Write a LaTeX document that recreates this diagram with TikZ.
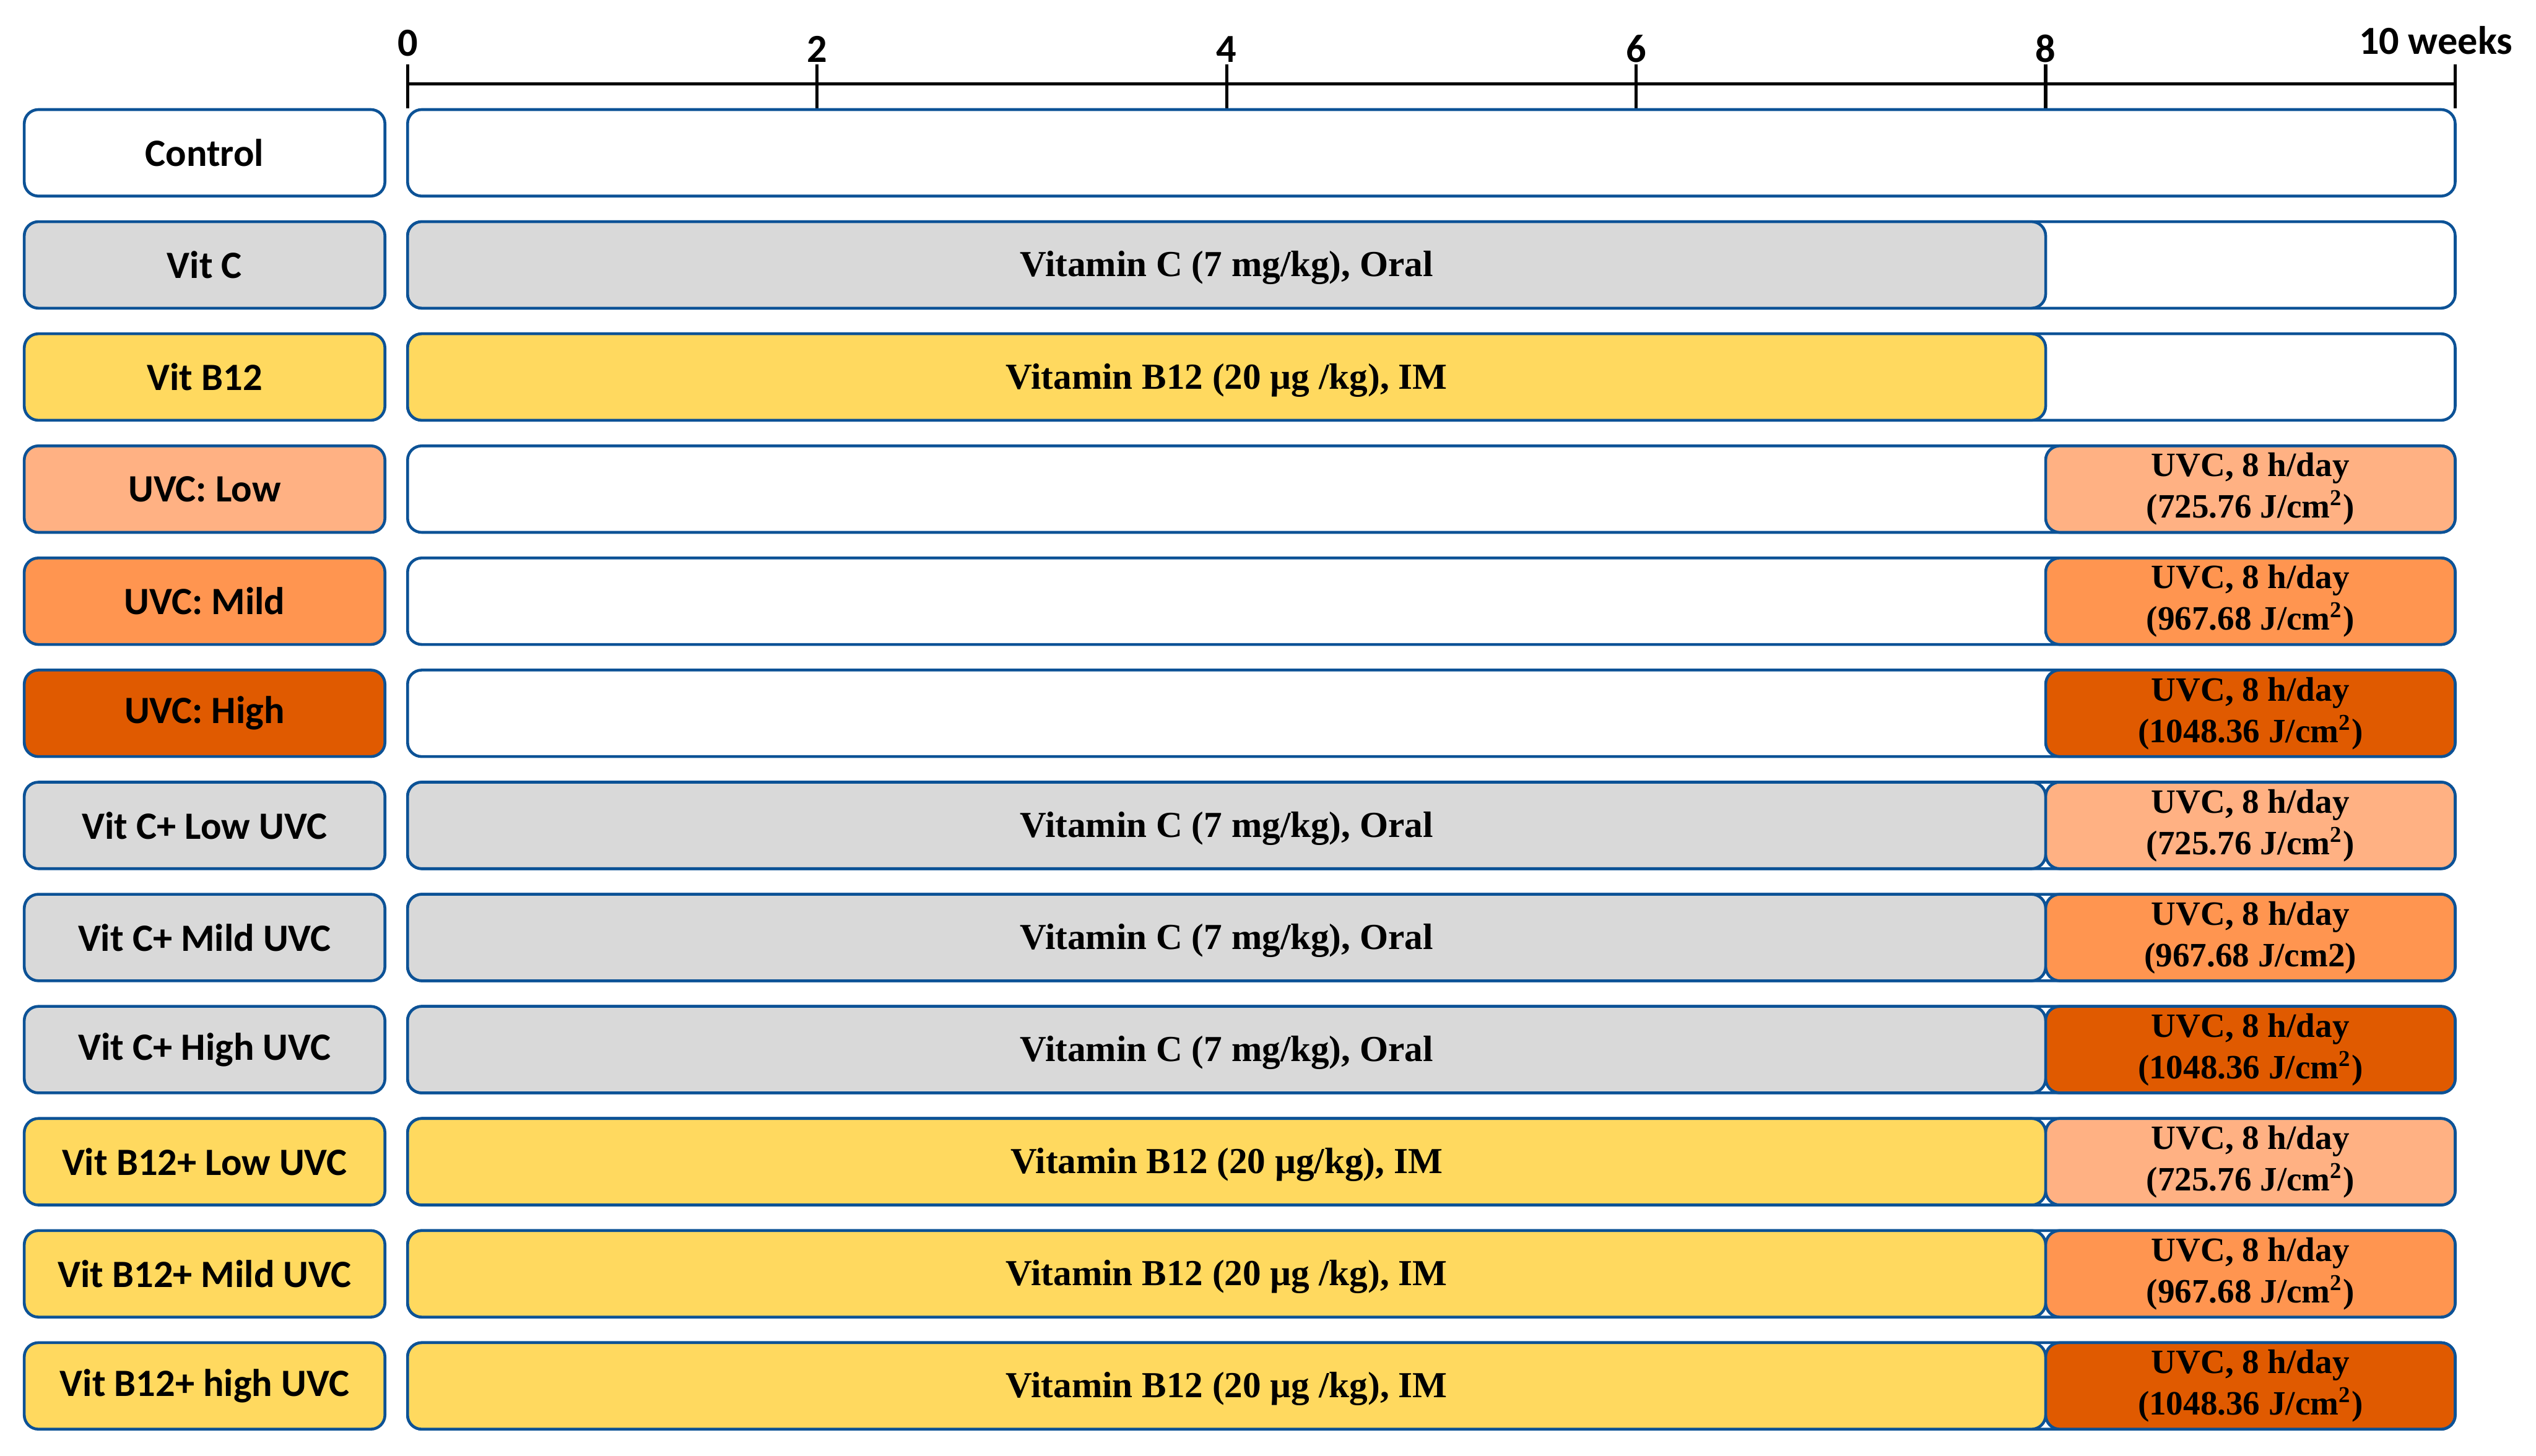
\documentclass[tikz,border=0pt]{standalone}
\usepackage{fontspec}
\setmainfont{Liberation Serif}
\newfontfamily\calfont{Carlito}
\usetikzlibrary{positioning}
\definecolor{boxblue}{RGB}{12,82,150}
\definecolor{vitcgrey}{RGB}{217,217,217}
\definecolor{byellow}{RGB}{255,217,95}
\definecolor{uvlow}{RGB}{255,177,131}
\definecolor{uvmild}{RGB}{255,149,80}
\definecolor{uvhigh}{RGB}{224,90,0}

\begin{document}
\begin{tikzpicture}[x=0.2mm, y=-0.2mm, node distance=3.164mm,
  box/.style={draw=boxblue, line width=1pt, rounded corners=1.75mm, inner sep=0pt, outer sep=0pt, minimum height=10.7mm},
  grp/.style={box, minimum width=44.6mm, font=\calfont\bfseries\fontsize{13.6}{16}\selectfont},
  track/.style={box, fill=white, minimum width=253.2mm},
  dose/.style={box, minimum width=202.56mm, anchor=west, text depth=0.15ex, font=\bfseries\fontsize{12.9}{15}\selectfont},
  uvc/.style={box, minimum width=50.64mm, anchor=east, align=center, font=\bfseries\fontsize{12}{14.6}\selectfont},
  wk/.style={font=\calfont\bfseries\fontsize{14}{16}\selectfont, inner sep=0pt},
  axisline/.style={line width=1.1pt}]
\useasboundingbox (0,0) rectangle (1568,900);
% time axis (weeks)
\foreach \w in {0,2,4,6,8,10}{
  \coordinate (tk\w) at ({252+126.6*\w},52);
  \draw[axisline] ([yshift=2.4mm]tk\w) -- ([yshift=-3mm]tk\w);
}
\draw[axisline] (tk0) -- (tk10);
\node[wk, above=3.4mm of tk0] (wk0) {0};
\foreach \w in {2,4,6,8} \node[wk, above=2.6mm of tk\w] (wk\w) {\w};
\node[wk, above=3.6mm of tk10, xshift=-2.4mm] (wk10) {10 weeks};
% groups
\node[grp] (g1) at (126.5,94.5) {Control};
\node[grp, fill=vitcgrey, below=of g1] (g2) {Vit C};
\node[grp, fill=byellow, below=of g2] (g3) {Vit B12};
\node[grp, fill=uvlow, below=of g3] (g4) {UVC: Low};
\node[grp, fill=uvmild, below=of g4] (g5) {UVC: Mild};
\node[grp, fill=uvhigh, below=of g5] (g6) {UVC: High};
\node[grp, fill=vitcgrey, below=of g6] (g7) {Vit C+ Low UVC};
\node[grp, fill=vitcgrey, below=of g7] (g8) {Vit C+ Mild UVC};
\node[grp, fill=vitcgrey, below=of g8] (g9) {Vit C+ High UVC};
\node[grp, fill=byellow, below=of g9] (g10) {Vit B12+ Low UVC};
\node[grp, fill=byellow, below=of g10] (g11) {Vit B12+ Mild UVC};
\node[grp, fill=byellow, below=of g11] (g12) {Vit B12+ high UVC};
% timelines
\foreach \i in {1,...,12} \node[track, right=2.8mm of g\i] (tr\i) {};
% vitamin periods, weeks 0-8
\node[dose, fill=vitcgrey] (d2) at (tr2.west) {Vitamin C (7 mg/kg), Oral};
\node[dose, fill=byellow] (d3) at (tr3.west) {Vitamin B12 (20 µg /kg), IM};
\node[dose, fill=vitcgrey] (d7) at (tr7.west) {Vitamin C (7 mg/kg), Oral};
\node[dose, fill=vitcgrey] (d8) at (tr8.west) {Vitamin C (7 mg/kg), Oral};
\node[dose, fill=vitcgrey] (d9) at (tr9.west) {Vitamin C (7 mg/kg), Oral};
\node[dose, fill=byellow] (d10) at (tr10.west) {Vitamin B12 (20 µg/kg), IM};
\node[dose, fill=byellow] (d11) at (tr11.west) {Vitamin B12 (20 µg /kg), IM};
\node[dose, fill=byellow] (d12) at (tr12.west) {Vitamin B12 (20 µg /kg), IM};
% UVC exposure, weeks 8-10
\node[uvc, fill=uvlow] (u4) at (tr4.east) {UVC, 8 h/day\\(725.76 J/cm\textsuperscript{2})};
\node[uvc, fill=uvmild] (u5) at (tr5.east) {UVC, 8 h/day\\(967.68 J/cm\textsuperscript{2})};
\node[uvc, fill=uvhigh] (u6) at (tr6.east) {UVC, 8 h/day\\(1048.36 J/cm\textsuperscript{2})};
\node[uvc, fill=uvlow] (u7) at (tr7.east) {UVC, 8 h/day\\(725.76 J/cm\textsuperscript{2})};
\node[uvc, fill=uvmild] (u8) at (tr8.east) {UVC, 8 h/day\\(967.68 J/cm2)};
\node[uvc, fill=uvhigh] (u9) at (tr9.east) {UVC, 8 h/day\\(1048.36 J/cm\textsuperscript{2})};
\node[uvc, fill=uvlow] (u10) at (tr10.east) {UVC, 8 h/day\\(725.76 J/cm\textsuperscript{2})};
\node[uvc, fill=uvmild] (u11) at (tr11.east) {UVC, 8 h/day\\(967.68 J/cm\textsuperscript{2})};
\node[uvc, fill=uvhigh] (u12) at (tr12.east) {UVC, 8 h/day\\(1048.36 J/cm\textsuperscript{2})};
\end{tikzpicture}
\end{document}
